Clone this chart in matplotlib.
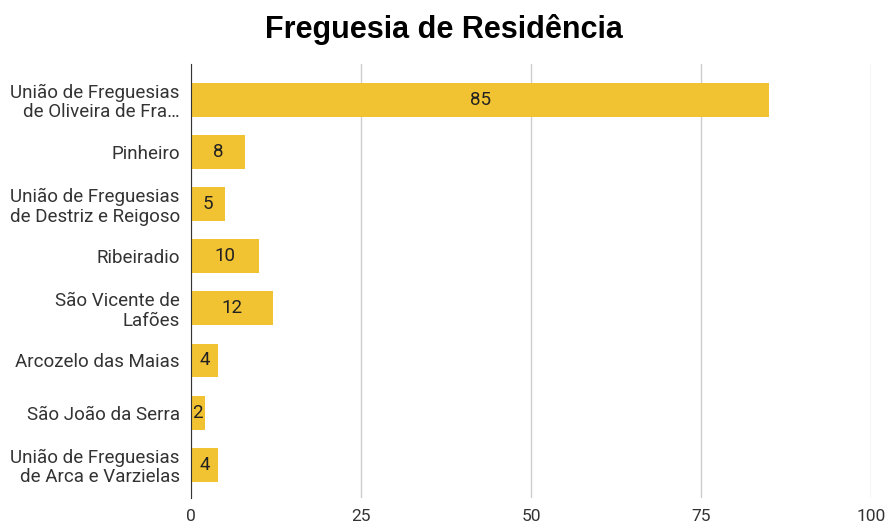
import matplotlib
matplotlib.use('Agg')
from matplotlib import pyplot as plt

# Dados
freguesias = ['União de Freguesias\nde Oliveira de Fra…', 'Pinheiro',
              'União de Freguesias\nde Destriz e Reigoso', 'Ribeiradio',
              'São Vicente de\nLafões', 'Arcozelo das Maias',
              'São João da Serra', 'União de Freguesias\nde Arca e Varzielas']
contagem = [85, 8, 5, 10, 12, 4, 2, 4]
ticks = [0, 25, 50, 75, 100]

plt.rcParams['font.family'] = ['Roboto', 'DejaVu Sans']

fig = plt.figure(figsize=(8.88, 5.25), dpi=100)
ax = fig.add_axes([0.215, 0.0514, 0.766, 0.8266])

pos = list(range(len(freguesias)))
ax.barh(pos, contagem, height=0.65, color='#F1C232', zorder=3)
for y, v in zip(pos, contagem):
    ax.text(v / 2, y, str(v), ha='center', va='center', fontsize=13.5, color='#222222', zorder=4)

ax.set_xlim(0, 100)
ax.set_ylim(7.64, -0.69)
ax.set_xticks(ticks)
ax.set_yticks(pos)
ax.set_yticklabels(freguesias, fontsize=13.5, color='#333333', linespacing=1.1)
ax.tick_params(axis='x', labelsize=12.5, labelcolor='#333333', length=0, pad=8)
ax.tick_params(axis='y', length=0, pad=8)
ax.grid(axis='x', color='#CCCCCC', linewidth=1, zorder=0)
for s in ['top', 'right', 'bottom']:
    ax.spines[s].set_visible(False)
ax.spines['left'].set_color('#333333')
ax.spines['left'].set_zorder(5)

fig.text(0.5, 0.943, 'Freguesia de Residência', ha='center', va='center',
         fontsize=22, fontweight='bold', family=['Liberation Sans', 'DejaVu Sans'])

fig.savefig('out.png', dpi=100)
